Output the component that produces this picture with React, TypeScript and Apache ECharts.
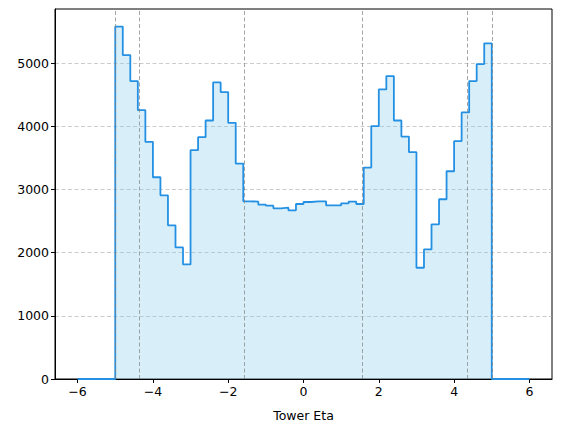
import React, { useEffect, useRef } from "react";
import * as echarts from "echarts";

// Histogram of tower eta: 60 bins of width 0.2 from -6 to 6
const binStart = -6;
const binWidth = 0.2;
const counts = [
  0, 0, 0, 0, 0,
  5582, 5132, 4719, 4259, 3757, 3196, 2910, 2434, 2085, 1815,
  3624, 3831, 4095, 4698, 4545, 4058, 3413, 2815, 2810, 2762,
  2746, 2704, 2714, 2672, 2772,
  2804, 2815, 2815, 2751, 2751, 2783, 2810, 2772, 3349, 4005,
  4587, 4799, 4095, 3841, 3593, 1762, 2053, 2450, 2847, 3291,
  3767, 4222, 4720, 4989, 5317,
  0, 0, 0, 0, 0,
];
const boundaryEta = [-5.0, -4.36, -1.57, 1.57, 4.36, 5.0];
const xTicks = [-6, -4, -2, 0, 2, 4, 6];
const yTicks = [0, 1000, 2000, 3000, 4000, 5000];
const xLabel = "Tower Eta";

export default function App() {
  const ref = useRef<HTMLDivElement>(null);
  useEffect(() => {
    if (!ref.current) return;
    const chart = echarts.init(ref.current, null, { renderer: "svg" });
    const pts: [number, number][] = counts.map((c, i) => [
      +(binStart + i * binWidth).toFixed(2),
      c,
    ]);
    pts.push([+(binStart + counts.length * binWidth).toFixed(2), counts[counts.length - 1]]);
    const maxY = Math.max(...counts) * 1.05;
    const font = "DejaVu Sans";
    const fs = 12.5;
    chart.setOption({
      animation: false,
      grid: {
        left: 55,
        right: 9,
        top: 9,
        bottom: 53,
        show: true,
        borderColor: "#000",
        borderWidth: 1,
        backgroundColor: "transparent",
      },
      xAxis: {
        type: "value",
        min: -6.6,
        max: 6.6,
        name: xLabel,
        nameLocation: "middle",
        nameGap: 30,
        nameTextStyle: { fontFamily: font, fontSize: fs, color: "#000" },
        axisLine: { show: true, onZero: false, lineStyle: { color: "#000", width: 1 } },
        axisTick: {
          show: true,
          length: 4,
          lineStyle: { color: "#000" },
          customValues: xTicks,
        },
        axisLabel: {
          fontFamily: font,
          fontSize: fs,
          color: "#000",
          margin: 6,
          customValues: xTicks,
          formatter: (v: number) => (v < 0 ? "\u2212" + Math.abs(v) : String(v)),
        },
        splitLine: { show: false },
      },
      yAxis: {
        type: "value",
        min: 0,
        max: maxY,
        interval: 1000,
        axisLine: { show: true, onZero: false, lineStyle: { color: "#000", width: 1 } },
        axisTick: {
          show: true,
          length: 4,
          lineStyle: { color: "#000" },
          customValues: yTicks,
        },
        axisLabel: {
          fontFamily: font,
          fontSize: fs,
          color: "#000",
          margin: 6,
          customValues: yTicks,
          formatter: (v: number) => String(v),
        },
        splitLine: {
          show: true,
          lineStyle: { color: "rgba(170,170,170,0.75)", type: [4, 2.5], width: 0.8 },
        },
      },
      series: [
        {
          type: "line",
          step: "end",
          data: pts,
          symbol: "none",
          lineStyle: { color: "#2490e3", width: 1.8 },
          areaStyle: { color: "rgba(135,206,235,0.32)", opacity: 1, origin: 0 },
          z: 3,
          markLine: {
            silent: true,
            symbol: "none",
            label: { show: false },
            lineStyle: { color: "rgba(128,128,128,0.7)", type: [4, 2.5], width: 1 },
            data: boundaryEta.map((e) => ({ xAxis: e })),
          },
        },
      ],
    });
    return () => chart.dispose();
  }, []);
  return <div ref={ref} style={{ width: 561, height: 432, marginLeft: -8, marginTop: -8 }} />;
}
